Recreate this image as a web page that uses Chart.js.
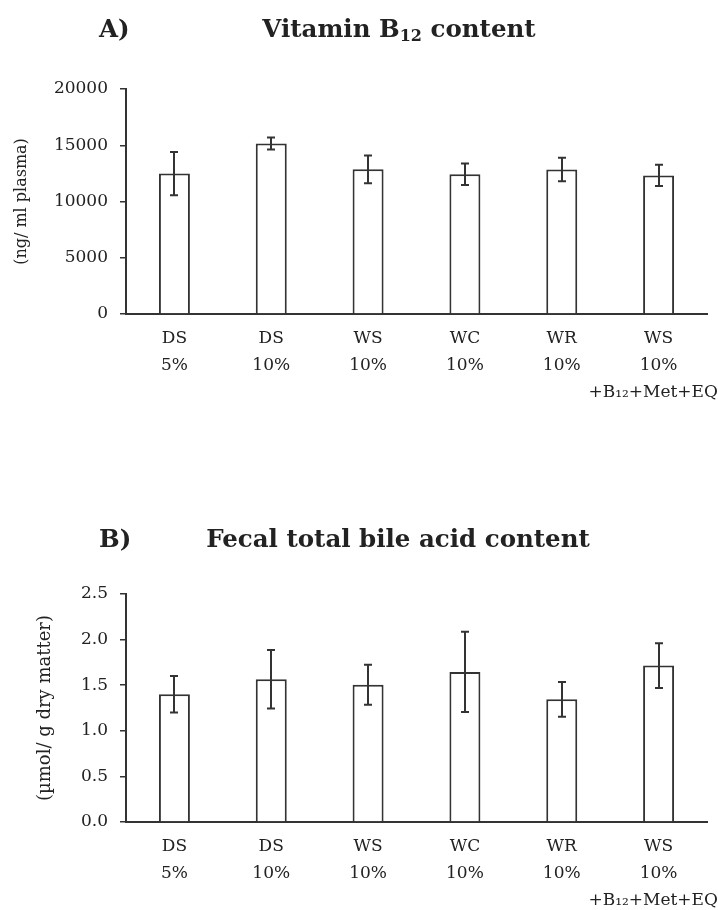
<!DOCTYPE html>
<html>
<head>
<meta charset="utf-8">
<script src="https://cdn.jsdelivr.net/npm/chart.js@4.4.0/dist/chart.umd.min.js"></script>
<style>
  body { margin: 0; background: #fff; width: 718px; height: 910px; position: relative; overflow: hidden; font-family: 'DejaVu Serif', serif; color: #222; }
  .title { position: absolute; font-weight: bold; font-size: 24.5px; white-space: nowrap; line-height: 30px; }
  .title sub { font-size: 16px; vertical-align: -4px; line-height: 0; }
  .center { transform: translateX(-50%); }
  .wrap { position: absolute; left: 0; width: 718px; }
</style>
</head>
<body>
<div class="wrap" style="top:0;height:400px"><canvas id="chartA"></canvas></div>
<div class="wrap" style="top:480px;height:430px"><canvas id="chartB"></canvas></div>

<div class="title" style="left:99px;top:14px">A)</div>
<div class="title center" style="left:399px;top:14px">Vitamin B<sub>12</sub> content</div>
<div class="title" style="left:99px;top:524px">B)</div>
<div class="title center" style="left:398px;top:524px">Fecal total bile acid content</div>

<script>
// --- Datos ---
const groupLabels = [
  ['DS', '5%'],
  ['DS', '10%'],
  ['WS', '10%'],
  ['WC', '10%'],
  ['WR', '10%'],
  ['WS', '10%', '+B\u2081\u2082+Met+EQ  '],
];

// A) Vitamina B12 (ng/ ml plasma)
const vitB12Mean = [12480, 15160, 12860, 12420, 12850, 12320];
const vitB12Sd = [1930, 530, 1230, 960, 1050, 950];
const vitB12Ticks = [0, 5000, 10000, 15000, 20000];

// B) Ácidos biliares fecales (µmol/ g dry matter)
const bileMean = [1.40, 1.565, 1.505, 1.645, 1.345, 1.715];
const bileSd = [0.20, 0.32, 0.22, 0.44, 0.19, 0.245];
const bileTicks = [0, 0.5, 1.0, 1.5, 2.0, 2.5];

const INK = '#333';

/**
 * Dibuja barras de error (media ± DE) sobre cada barra.
 */
const errorBarPlugin = {
  id: 'errorBars',
  afterDatasetsDraw(chart, args, opts) {
    const { ctx } = chart;
    const y = chart.scales.y;
    const meta = chart.getDatasetMeta(0);
    const means = chart.data.datasets[0].data;
    ctx.save();
    ctx.strokeStyle = INK;
    ctx.lineWidth = 2;
    meta.data.forEach((bar, i) => {
      const x = Math.round(bar.x);
      const top = y.getPixelForValue(means[i] + opts.sd[i]);
      const bottom = y.getPixelForValue(means[i] - opts.sd[i]);
      ctx.beginPath();
      ctx.moveTo(x, top);
      ctx.lineTo(x, bottom);
      ctx.moveTo(x - 4, top);
      ctx.lineTo(x + 4, top);
      ctx.moveTo(x - 4, bottom);
      ctx.lineTo(x + 4, bottom);
      ctx.stroke();
    });
    ctx.restore();
  }
};

function makeChart(id, means, sd, ticks, opts) {
  const step = opts.minorStep || (ticks[1] - ticks[0]);
  return new Chart(document.getElementById(id), {
    type: 'bar',
    data: {
      labels: groupLabels,
      datasets: [{
        data: means,
        backgroundColor: '#fff',
        borderColor: INK,
        borderWidth: 2,
        borderSkipped: 'bottom',
        categoryPercentage: 1,
        barPercentage: 0.32
      }]
    },
    plugins: [errorBarPlugin],
    options: {
      responsive: true,
      maintainAspectRatio: false,
      animation: false,
      layout: { padding: { top: opts.padTop, right: 11, left: 0, bottom: 0 } },
      plugins: {
        legend: { display: false },
        tooltip: { enabled: false },
        errorBars: { sd: sd }
      },
      scales: {
        x: {
          grid: { display: false },
          border: { display: true, color: INK, width: 2 },
          ticks: {
            color: '#222',
            padding: 3,
            maxRotation: 0,
            autoSkip: false,
            font: { family: 'DejaVu Serif', size: 17, lineHeight: 1.6 }
          },
          afterFit: (scale) => {
            scale.paddingLeft = 0;
            scale.paddingRight = 0;
            scale.height = opts.xHeight;
          }
        },
        y: {
          min: ticks[0],
          max: ticks[ticks.length - 1],
          grid: { drawOnChartArea: false, drawTicks: true, tickLength: 6, color: INK, lineWidth: 1.5 },
          border: { display: true, color: INK, width: 2 },
          ticks: {
            stepSize: step,
            padding: 12,
            color: '#222',
            font: { family: 'DejaVu Serif', size: 17 },
            callback: (v) => {
              const hit = ticks.find(t => Math.abs(t - v) < 1e-6);
              return hit === undefined ? '' : opts.fmt(hit);
            }
          },
          title: {
            display: true,
            text: opts.yTitle,
            color: '#222',
            padding: { top: opts.titlePad, bottom: 0 },
            font: { family: 'DejaVu Serif', size: opts.titleSize }
          },
          afterFit: (scale) => { scale.width = 126; }
        }
      }
    }
  });
}

makeChart('chartA', vitB12Mean, vitB12Sd, vitB12Ticks, {
  padTop: 89, xHeight: 86, titlePad: 12, titleSize: 16,
  yTitle: '(ng/ ml plasma)',
  fmt: (v) => String(v)
});

makeChart('chartB', bileMean, bileSd, bileTicks, {
  padTop: 114, xHeight: 88, titlePad: 35, titleSize: 18, minorStep: 0.25,
  yTitle: '(\u00b5mol/ g dry matter)',
  fmt: (v) => v.toFixed(1)
});
</script>
</body>
</html>
